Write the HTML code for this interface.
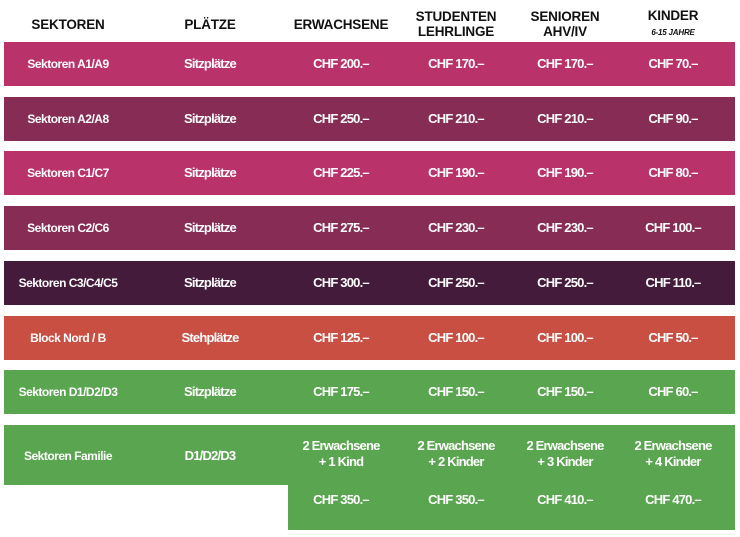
<!DOCTYPE html>
<html><head><meta charset="utf-8"><style>
body{margin:0;width:740px;height:537px;background:#fff;position:relative;overflow:hidden;font-family:"Liberation Sans",sans-serif;}
.h{position:absolute;font-weight:bold;font-size:13.5px;color:#111;text-align:center;line-height:15px;letter-spacing:-0.2px}
.r{position:absolute;left:4px;width:731px;height:44px}
.c{position:absolute;color:#fff;text-align:center;font-size:13px;font-weight:bold;letter-spacing:-0.8px;transform:translateX(-50%);white-space:nowrap;line-height:16px}
.b{font-size:12px;letter-spacing:-0.5px}
</style></head><body>
<div class="h" style="left:18px;width:100px;top:17px">SEKTOREN</div>
<div class="h" style="left:160px;width:100px;top:17px">PLÄTZE</div>
<div class="h" style="left:286px;width:110px;top:17px">ERWACHSENE</div>
<div class="h" style="left:406px;width:100px;top:9px">STUDENTEN<br>LEHRLINGE</div>
<div class="h" style="left:515px;width:100px;top:9px">SENIOREN<br>AHV/IV</div>
<div class="h" style="left:623px;width:100px;top:8px">KINDER<br><i style="font-size:8px;font-weight:bold">6-15 JAHRE</i></div>
<div id="t"></div>
<script>
const sectors=["Sektoren A1/A9","Sektoren A2/A8","Sektoren C1/C7","Sektoren C2/C6","Sektoren C3/C4/C5","Block Nord / B","Sektoren D1/D2/D3"];
const places=["Sitzplätze","Sitzplätze","Sitzplätze","Sitzplätze","Sitzplätze","Stehplätze","Sitzplätze"];
const adult=[200,250,225,275,300,125,175];
const student=[170,210,190,230,250,100,150];
const senior=[170,210,190,230,250,100,150];
const kids=[70,90,80,100,110,50,60];
const colors=["#b9326a","#872c55","#b9326a","#872c55","#451b3b","#c84f42","#5aa54f"];
const xs=[68,210,341,456,565,673];
const t=document.getElementById('t');
function cell(parent,x,y,txt,bold,name){const d=document.createElement('div');d.className='c'+(bold?' b':'');d.style.left=(x-4)+'px';d.style.top=y+'px';d.innerHTML=txt;


parent.appendChild(d);}
sectors.forEach((s,i)=>{const r=document.createElement('div');r.className='r';r.style.top=(42+i*54.7)+'px';r.style.background=colors[i];


t.appendChild(r);
const vals=[s,places[i],'CHF '+adult[i]+'.–','CHF '+student[i]+'.–','CHF '+senior[i]+'.–','CHF '+kids[i]+'.–'];
vals.forEach((v,j)=>cell(r,xs[j],14,v,j==0,'cell-'+(i+1)+'-'+(j+1)));});
const famLabels=["2 Erwachsene<br>+ 1 Kind","2 Erwachsene<br>+ 2 Kinder","2 Erwachsene<br>+ 3 Kinder","2 Erwachsene<br>+ 4 Kinder"];
const famPrices=[350,350,410,470];
const f1=document.createElement('div');f1.className='r';f1.style.top='425px';f1.style.height='60px';f1.style.background='#5aa54f';


t.appendChild(f1);
const f2=document.createElement('div');f2.style.cssText='position:absolute;left:288px;top:425px;width:447px;height:105px;background:#5aa54f';


t.appendChild(f2);
cell(f1,xs[0],23,'Sektoren Familie',true,'cell-familie-sektor');
cell(f1,xs[1],23,'D1/D2/D3',false,'cell-familie-plaetze');
famLabels.forEach((l,j)=>{cell(f2,xs[j+2]-284,13,l,false,'familie-label-'+(j+1));cell(f2,xs[j+2]-284,67,'CHF '+famPrices[j]+'.–',false,'familie-price-'+(j+1));});
</script>
</body></html>
